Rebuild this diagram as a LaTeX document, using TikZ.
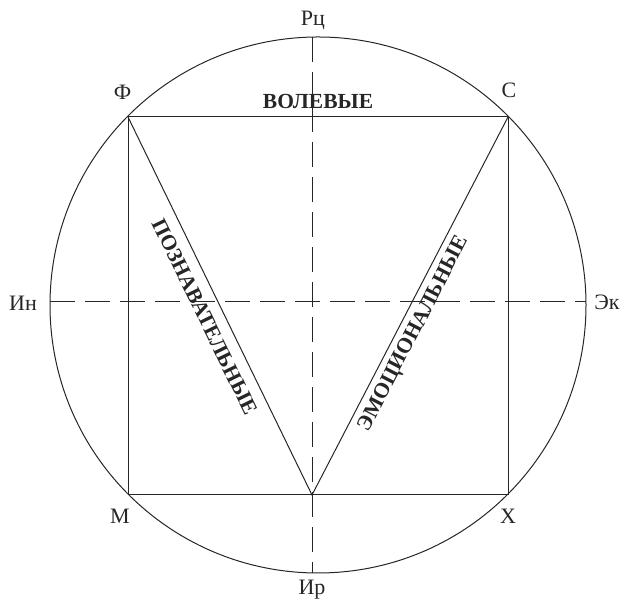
\documentclass[tikz,border=0pt]{standalone}
\usepackage{fontspec}
\setmainfont{Liberation Serif}
\begin{document}
\begin{tikzpicture}[x=1pt,y=1pt,
  thinline/.style={line width=1pt, black!85},
  axisline/.style={line width=1pt, black!85, dash pattern=on 25pt off 10pt},
  lbl/.style={font=\fontsize{22}{24}\selectfont, inner sep=0pt, text=black!85},
  big/.style={font=\fontsize{21.5}{23}\selectfont\bfseries, inner sep=0pt, text=black!85}]
\useasboundingbox (0,0) rectangle (624,601);
\coordinate (O) at (318,296);
\coordinate (F) at (128,484);
\coordinate (S) at (508,484);
\coordinate (M) at (128,106);
\coordinate (X) at (508,106);
\coordinate (A) at (312,106);
\coordinate (Vt) at (312,563.9);
\coordinate (Vb) at (312,28.1);
\coordinate (Hl) at (50,299);
\coordinate (Hr) at (586,299);
% circle
\draw[thinline] (O) circle (268);
% axes
\draw[axisline] (Vt) -- (Vb);
\draw[axisline] (Hl) -- (Hr);
% square and triangle
\draw[thinline] (F) -- (S) -- (X) -- (M) -- cycle;
\draw[thinline] (F) -- (A) -- (S);
% labels
\node[lbl] (lrc) at (313,581) {Рц};
\node[lbl] (lir) at (312,11) {Ир};
\node[lbl] (lin) at (23,298) {Ин};
\node[lbl] (lek) at (607,299) {Эк};
\node[lbl] (lf) at (122.5,509) {Ф};
\node[lbl] (ls) at (509,511) {С};
\node[lbl] (lm) at (120,85) {М};
\node[lbl] (lx) at (508,85) {Х};
\node[big] (vol) at (318,500) {ВОЛЕВЫЕ};
\node[big, rotate=-64] (poz) at (205,284) {ПОЗНАВАТЕЛЬНЫЕ};
\node[big, rotate=62.6] (emo) at (414,267) {ЭМОЦИОНАЛЬНЫЕ};
\end{tikzpicture}
\end{document}
